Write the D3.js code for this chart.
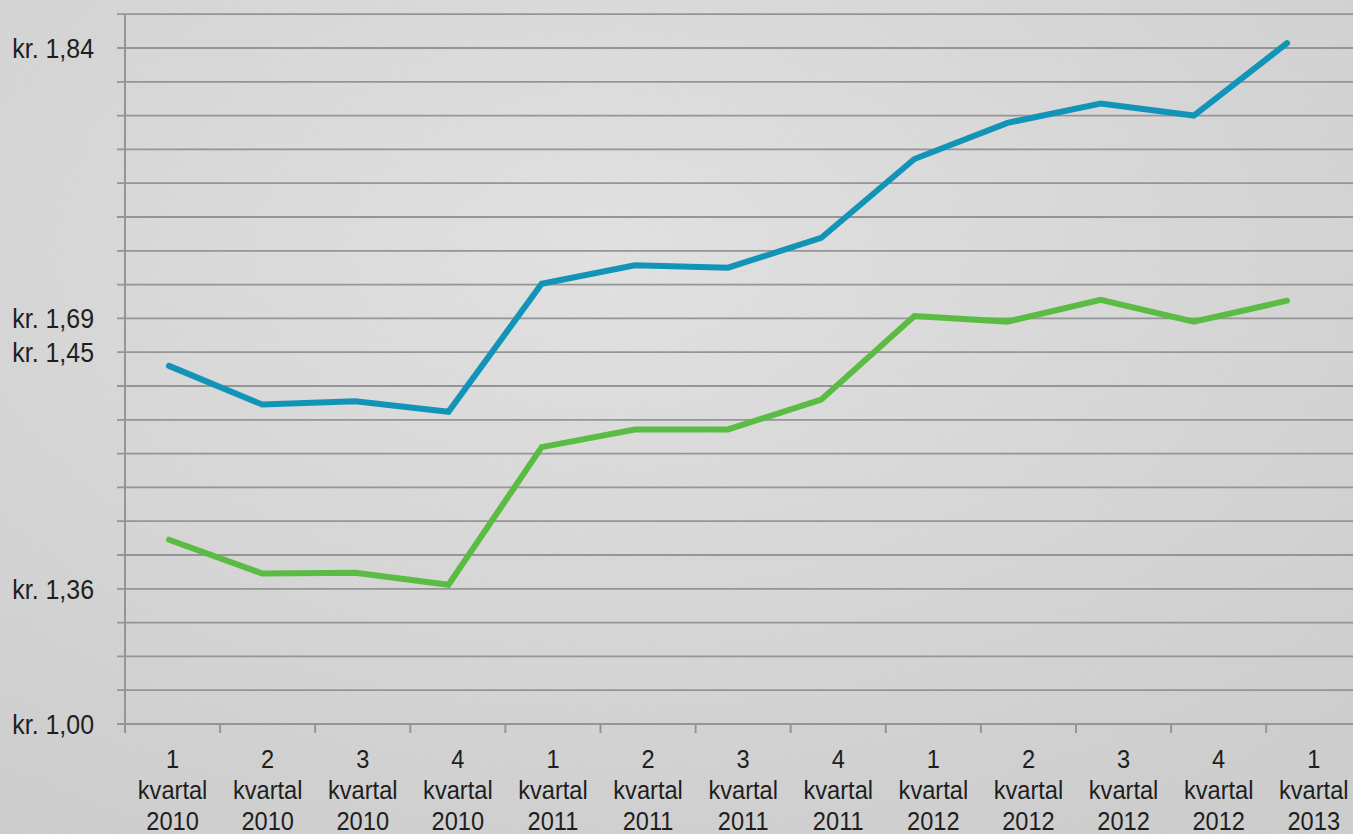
<!DOCTYPE html>
<html>
<head>
<meta charset="utf-8">
<script src="https://cdn.jsdelivr.net/npm/d3@7"></script>
<style>
  html, body { margin: 0; padding: 0; background: #d8d8d8; }
  svg { display: block; }
  text { font-family: "Liberation Sans Narrow", "Liberation Sans", Arial, sans-serif; fill: #1e1e1e; }
</style>
</head>
<body>
<div id="chart"></div>
<script>
const quarters = ['1 kvartal 2010', '2 kvartal 2010', '3 kvartal 2010', '4 kvartal 2010',
  '1 kvartal 2011', '2 kvartal 2011', '3 kvartal 2011', '4 kvartal 2011',
  '1 kvartal 2012', '2 kvartal 2012', '3 kvartal 2012', '4 kvartal 2012', '1 kvartal 2013']

const blueValues = [1.445, 1.397, 1.401, 1.388, 1.547, 1.570, 1.567, 1.604, 1.702, 1.747, 1.771, 1.756, 1.846]
const greenValues = [1.229, 1.187, 1.188, 1.173, 1.344, 1.366, 1.366, 1.403, 1.507, 1.500, 1.527, 1.500, 1.526]

// gridline steps of the value axis, and the few that carry a label
const gridSteps = d3.range(0, 22)
const gridStepSize = 0.042
const labelSteps = [0, 4, 11, 12, 20]
const labelTexts = ['kr. 1,00', 'kr. 1,36', 'kr. 1,45', 'kr. 1,69', 'kr. 1,84']

const width = 1353
const height = 834

const svg = d3.select('#chart')
  .append('svg')
  .attr('width', width)
  .attr('height', height)

// textured grey background
const defs = svg.append('defs')
const grad = defs.append('radialGradient')
  .attr('id', 'bg-grad')
  .attr('cx', '45%').attr('cy', '30%').attr('r', '80%')
grad.append('stop').attr('offset', '0%').attr('stop-color', '#e5e5e5')
grad.append('stop').attr('offset', '100%').attr('stop-color', '#cfcfcf')

const noise = defs.append('filter').attr('id', 'grain')
  .attr('x', 0).attr('y', 0).attr('width', '100%').attr('height', '100%')
noise.append('feTurbulence')
  .attr('type', 'fractalNoise').attr('baseFrequency', '0.7').attr('numOctaves', 3).attr('seed', 4)
noise.append('feColorMatrix')
  .attr('type', 'matrix')
  .attr('values', '0 0 0 0 0.5  0 0 0 0 0.5  0 0 0 0 0.5  0 0 0 0.22 0')

svg.append('rect').attr('width', width).attr('height', height).attr('fill', 'url(#bg-grad)')
svg.append('rect').attr('width', width).attr('height', height).attr('filter', 'url(#grain)')

const axisX = 125
const yScale = d3.scaleLinear()
  .domain([1.00, 1.84])
  .range([724, 48])

const xBand = d3.scaleBand()
  .domain(quarters)
  .range([axisX, axisX + quarters.length * 95.1])

const xPoint = d3.scalePoint()
  .domain(quarters)
  .range([169, 1287])

// gridlines
svg.append('g')
  .selectAll('line')
  .data(gridSteps)
  .enter()
  .append('line')
  .attr('x1', axisX - 8)
  .attr('x2', width)
  .attr('y1', d => yScale(1 + d * gridStepSize))
  .attr('y2', d => yScale(1 + d * gridStepSize))
  .attr('stroke', '#959598')
  .attr('stroke-width', 1.8)

// vertical axis
svg.append('line')
  .attr('x1', axisX).attr('x2', axisX)
  .attr('y1', yScale(1 + 21 * gridStepSize)).attr('y2', yScale(1) + 9)
  .attr('stroke', '#959598')
  .attr('stroke-width', 2)

// x ticks between categories
svg.append('g')
  .selectAll('line')
  .data(quarters.slice(1))
  .enter()
  .append('line')
  .attr('x1', d => xBand(d))
  .attr('x2', d => xBand(d))
  .attr('y1', yScale(1))
  .attr('y2', yScale(1) + 9)
  .attr('stroke', '#959598')
  .attr('stroke-width', 2)

// y labels (condensed look)
svg.append('g')
  .selectAll('text')
  .data(labelSteps)
  .enter()
  .append('text')
  .attr('transform', d => `translate(94,${yScale(1 + d * gridStepSize)}) scale(0.89,1)`)
  .attr('dy', '0.36em')
  .attr('text-anchor', 'end')
  .style('font-size', '28px')
  .text((d, i) => labelTexts[i])

// x labels
const xLabels = svg.append('g')
  .selectAll('text')
  .data(quarters)
  .enter()
  .append('text')
  .attr('transform', d => `translate(${xBand(d) + xBand.bandwidth() / 2},0) scale(0.945,1)`)
  .attr('text-anchor', 'middle')
  .style('font-size', '25px')

xLabels.selectAll('tspan')
  .data(d => d.split(' '))
  .enter()
  .append('tspan')
  .attr('x', 0)
  .attr('y', (d, i) => 768 + i * 31)
  .text(d => d)

// lines
const line = d3.line()
  .x((d, i) => xPoint(quarters[i]))
  .y(d => yScale(d))

svg.append('path')
  .datum(greenValues)
  .attr('d', line)
  .attr('fill', 'none')
  .attr('stroke', '#5bbc44')
  .attr('stroke-width', 6)
  .attr('stroke-linecap', 'round')

svg.append('path')
  .datum(blueValues)
  .attr('d', line)
  .attr('fill', 'none')
  .attr('stroke', '#1294b8')
  .attr('stroke-width', 6)
  .attr('stroke-linecap', 'round')
</script>
</body>
</html>
